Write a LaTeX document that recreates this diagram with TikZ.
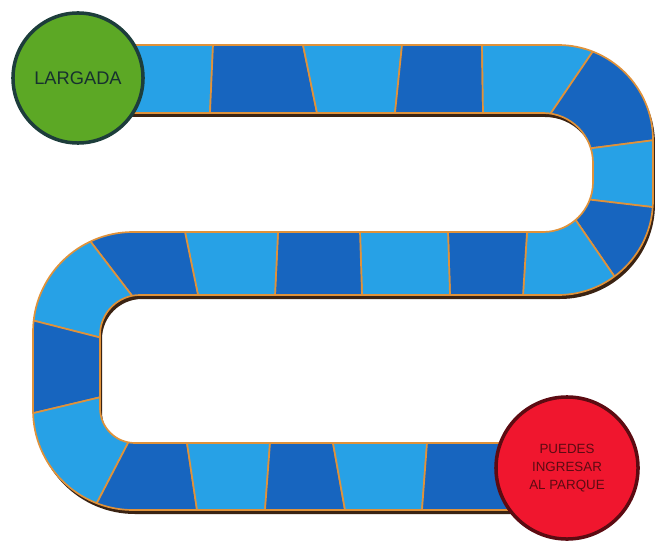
\documentclass[tikz,border=0pt]{standalone}
\usepackage{fontspec}
\setmainfont{Liberation Sans}
\usepackage{xcolor}
\usepackage{tikz}
\usetikzlibrary{calc}

\definecolor{lightcell}{HTML}{27A1E6}
\definecolor{darkcell}{HTML}{1765BF}
\definecolor{edgeorange}{HTML}{E0923A}
\definecolor{shadowbrown}{HTML}{3A2313}
\definecolor{startgreen}{HTML}{5CA825}
\definecolor{startrim}{HTML}{1D3D3B}
\definecolor{goalred}{HTML}{F0162E}
\definecolor{goalrim}{HTML}{5C0B12}

% outline of the snake-shaped track (pixel units, y downwards)
\newcommand{\trackpath}{(120,45) -- (558,45) arc[start angle=-90, end angle=0, radius=95]
  -- (653,200) arc[start angle=0, end angle=90, radius=95]
  -- (140,295) arc[start angle=-90, end angle=-180, radius=40]
  -- (100,408) arc[start angle=180, end angle=90, radius=35]
  -- (540,443) -- (540,510)
  -- (133,510) arc[start angle=90, end angle=180, radius=100]
  -- (33,332) arc[start angle=180, end angle=270, radius=100]
  -- (543,232) arc[start angle=90, end angle=0, radius=50]
  -- (593,163) arc[start angle=0, end angle=-90, radius=50]
  -- (120,113) -- cycle}

\begin{document}
\begin{tikzpicture}[x=0.025cm, y=-0.025cm]
      \useasboundingbox (0,0) rectangle (655,544);

      % Shadow under the track
      \fill[shadowbrown, shift={(2,4)}] \trackpath;

      % Dividers between the squares
      \foreach \i/\ax/\ay/\bx/\by in {0/120/40/120/118, 1/213/45/210/113, 2/303/45/317/113,
          3/402/45/395/113, 4/482/45/483/113, 5/587/60/553/110, 6/655/140/593/148,
          7/652/207/593/200, 8/610/270/577/222, 9/523/295/527/232, 10/450/295/448/232,
          11/362/295/360/232, 12/275/295/278/232, 13/198/295/185/232, 14/133/297/97/250,
          15/102/338/43/323, 16/97/398/38/412, 17/128/443/100/497, 18/187/443/197/510,
          19/270/443/265/510, 20/333/443/345/510, 21/427/443/422/510, 22/540/438/540/515} {
        \coordinate (d\i a) at ($(\ax,\ay)!-0.6!(\bx,\by)$);
        \coordinate (d\i b) at ($(\bx,\by)!-0.6!(\ax,\ay)$);
      }

      % Squares
      \begin{scope}
        \clip \trackpath;
        \foreach \i in {0,...,21} {
          \pgfmathtruncatemacro{\j}{\i+1}
          \pgfmathtruncatemacro{\odd}{mod(\i,2)}
          \ifnum\odd=0 \def\cellcol{lightcell}\else\def\cellcol{darkcell}\fi
          \filldraw[fill=\cellcol, draw=edgeorange, line width=1.2pt] (d\i a) -- (d\j a) -- (d\j b) -- (d\i b) -- cycle;
        }
      \end{scope}
      \draw[edgeorange, line width=1.2pt] \trackpath;

      % Start
      \node[circle, draw=startrim, line width=2.5pt, fill=startgreen, minimum size=3.25cm, text=startrim!80!black, font=\fontsize{13}{15}\selectfont] (start) at (78,78) {LARGADA};

      % Goal
      \node[circle, draw=goalrim, line width=2.5pt, fill=goalred, minimum size=3.55cm, text=goalrim, align=center, font=\fontsize{9.5}{12.8}\selectfont] (goal) at (567,468) {PUEDES\\INGRESAR\\AL PARQUE};
    \end{tikzpicture}
\end{document}
